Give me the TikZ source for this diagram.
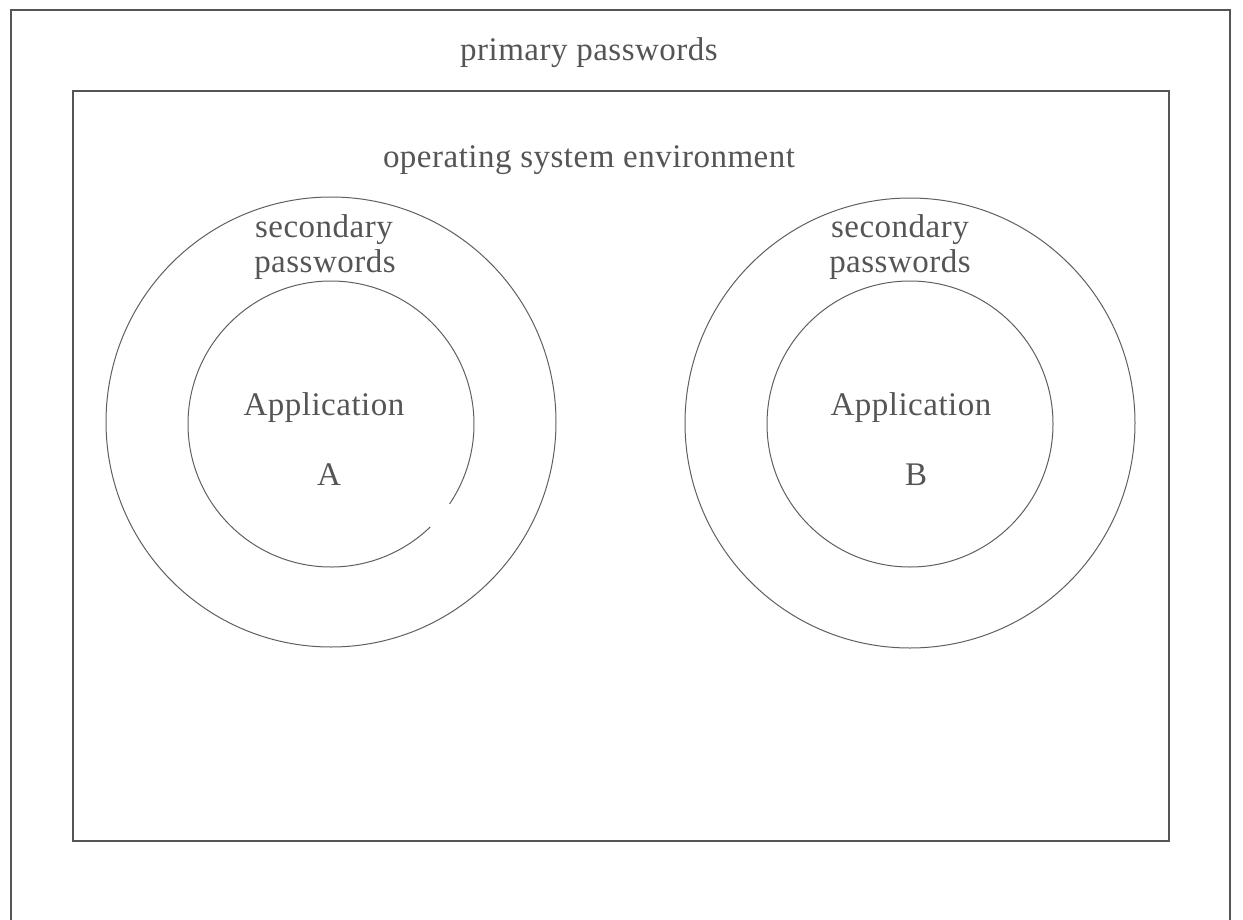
\documentclass[tikz,border=0pt]{standalone}
\usepackage{fontspec}
\setmainfont{Liberation Serif}[LetterSpace=1.5]
\begin{document}
\begin{tikzpicture}[x=1pt,y=-1pt,
  frame/.style={draw={rgb,255:red,85;green,85;blue,85}, line width=1.4pt},
  ring/.style={draw={rgb,255:red,95;green,95;blue,95}, line width=1.0pt},
  lbl/.style={text={rgb,255:red,85;green,85;blue,85}, font=\fontsize{33}{36}\selectfont, inner sep=0pt, anchor=base}
]
\useasboundingbox (0,0) rectangle (1243,919);
% outer frame (bottom edge runs off the page)
\draw[frame] (11,930) -- (11,10) -- (1230,10) -- (1230,930);
% inner frame
\draw[frame] (73,91) rectangle (1169,841);
% labels
\node[lbl] (prim) at (589,60) {primary passwords};
\node[lbl] (os) at (589,167) {operating system environment};
% left rings
\coordinate (cA) at (331,422);
\coordinate (cAi) at (331,424);
\draw[ring] (cA) circle[radius=225];
\draw[ring] ([shift={(46:143)}]cAi) arc[start angle=46, end angle=394, radius=143];
\node[lbl] (secA1) at (324,237) {secondary};
\node[lbl] (secA2) at (325,272) {passwords};
\node[lbl] (appA) at (324,415) {Application};
\node[lbl] (nA) at (329,485) {A};
% right rings
\coordinate (cB) at (910,423);
\coordinate (cBi) at (910,424);
\draw[ring] (cB) circle[radius=225];
\draw[ring] (cBi) circle[radius=143];
\node[lbl] (secB1) at (900,237) {secondary};
\node[lbl] (secB2) at (900,272) {passwords};
\node[lbl] (appB) at (911,415) {Application};
\node[lbl] (nB) at (916,485) {B};
\end{tikzpicture}
\end{document}
